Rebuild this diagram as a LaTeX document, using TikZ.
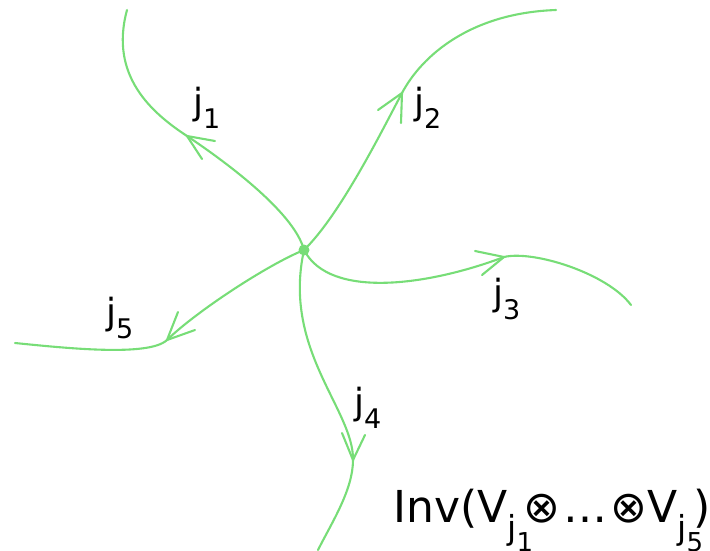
\documentclass[tikz,border=0pt]{standalone}
\usepackage{fontspec}
\setmainfont{DejaVu Sans}
\definecolor{strandgreen}{RGB}{119,221,119}
% label: letter with a lowered index
\newcommand\spinlabel[2]{\fontsize{36pt}{36pt}\selectfont #1\raisebox{-13.5pt}{\fontsize{27pt}{27pt}\selectfont #2}}
% nested index for the bottom formula: j lowered, its digit lowered further
\newcommand\lowidx[1]{\raisebox{-17pt}{\fontsize{33pt}{33pt}\selectfont j\rlap{\raisebox{-12pt}{\fontsize{26pt}{26pt}\selectfont #1}}}\kern7pt}
\begin{document}
\begin{tikzpicture}[x=1pt,y=-1pt,
  strand/.style={draw=strandgreen,line width=2.1pt,line cap=round,line join=round},
  barb/.style={draw=strandgreen,line width=2.1pt,line cap=round,line join=miter},
  lbl/.style={anchor=base west,inner sep=0pt,text=black}]
\useasboundingbox (0,0) rectangle (710,550);

% vertex
\node[circle,fill=strandgreen,inner sep=0pt,minimum size=11pt] (v) at (304,250) {};

% arrow tips and barb ends
\coordinate (t1) at (187,136); \coordinate (b1a) at (215,141); \coordinate (b1b) at (202,159);
\coordinate (t2) at (402,93);  \coordinate (b2a) at (378,110); \coordinate (b2b) at (401,123);
\coordinate (t3) at (504,257); \coordinate (b3a) at (475,251); \coordinate (b3b) at (482,275);
\coordinate (t4) at (353,460); \coordinate (b4a) at (342,433); \coordinate (b4b) at (365,435);
\coordinate (t5) at (167,340); \coordinate (b5a) at (178,312); \coordinate (b5b) at (195,330);

% free ends
\coordinate (e1) at (127,10);
\coordinate (e2) at (556,10);
\coordinate (e3) at (631,305);
\coordinate (e4) at (318,550);
\coordinate (e5) at (15,343);

% strands
\draw[strand] (v.center) .. controls (294,211) and (220,158) .. (t1)
  .. controls (152,113) and (109,76) .. (e1);
\draw[strand] (v.center) .. controls (340,215) and (381,132.6) .. (t2)
  .. controls (421.7,56) and (470,13) .. (e2);
\draw[strand] (v.center) .. controls (330,300) and (430,285) .. (t3)
  .. controls (533,250) and (607,273) .. (e3);
\draw[strand] (v.center) .. controls (282,350) and (354,410) .. (t4)
  .. controls (353,490) and (331.5,523) .. (e4);
\draw[strand] (v.center) .. controls (267,265) and (195.6,312) .. (t5)
  .. controls (149,357) and (65,348) .. (e5);

% open arrowheads
\draw[barb] (b1a) -- (t1) -- (b1b);
\draw[barb] (b2a) -- (t2) -- (b2b);
\draw[barb] (b3a) -- (t3) -- (b3b);
\draw[barb] (b4a) -- (t4) -- (b4b);
\draw[barb] (b5a) -- (t5) -- (b5b);

% labels
\node[lbl] (l1) at (193,114.5) {\spinlabel{j}{1}};
\node[lbl] (l2) at (414,114.5) {\spinlabel{j}{2}};
\node[lbl] (l3) at (493,305.5) {\spinlabel{j}{3}};
\node[lbl] (l4) at (354,414.5) {\spinlabel{j}{4}};
\node[lbl] (l5) at (106,324.5) {\spinlabel{j}{5}};

\node[lbl] (inv) at (393,522) {\fontsize{44pt}{44pt}\selectfont
  Inv(V\lowidx{1}⊗\kern3pt…\kern3pt⊗V\lowidx{5})};
\end{tikzpicture}
\end{document}
